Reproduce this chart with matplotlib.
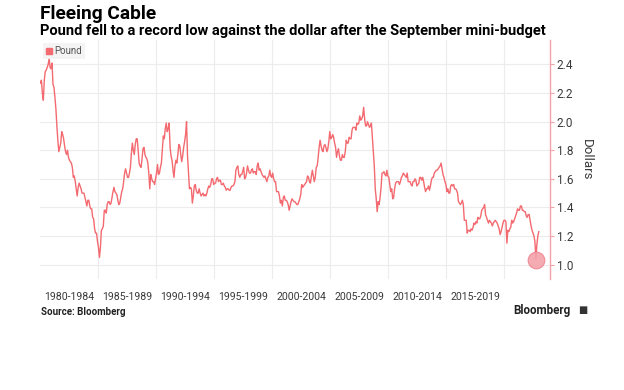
import numpy as np
import matplotlib
matplotlib.use("Agg")
import matplotlib.pyplot as plt
from matplotlib.lines import Line2D

# GBP/USD, monthly readings, Jan 1980 .. Dec 2022
gbp_1980s = [
    2.27, 2.29, 2.20, 2.15, 2.29, 2.35, 2.36, 2.38, 2.40, 2.44, 2.38, 2.37,
    2.41, 2.26, 2.24, 2.17, 2.09, 1.97, 1.87, 1.79, 1.82, 1.85, 1.93, 1.91,
    1.88, 1.83, 1.79, 1.77, 1.80, 1.75, 1.73, 1.72, 1.71, 1.68, 1.61, 1.62,
    1.58, 1.53, 1.48, 1.54, 1.57, 1.55, 1.53, 1.50, 1.50, 1.50, 1.47, 1.44,
    1.41, 1.45, 1.45, 1.41, 1.39, 1.39, 1.33, 1.32, 1.25, 1.22, 1.22, 1.16,
    1.12, 1.05, 1.12, 1.24, 1.25, 1.27, 1.38, 1.38, 1.36, 1.42, 1.44, 1.44,
    1.42, 1.43, 1.47, 1.51, 1.54, 1.51, 1.50, 1.49, 1.45, 1.42, 1.43, 1.47,
    1.51, 1.53, 1.58, 1.64, 1.67, 1.64, 1.61, 1.61, 1.64, 1.68, 1.78, 1.85,
    1.80, 1.77, 1.84, 1.88, 1.88, 1.80, 1.71, 1.69, 1.68, 1.74, 1.81, 1.82,
    1.77, 1.75, 1.74, 1.71, 1.64, 1.53, 1.63, 1.60, 1.58, 1.58, 1.56, 1.60,
]
gbp_1990s = [
    1.64, 1.70, 1.63, 1.64, 1.68, 1.71, 1.80, 1.90, 1.88, 1.95, 1.99, 1.93,
    1.95, 1.99, 1.82, 1.76, 1.73, 1.66, 1.61, 1.69, 1.73, 1.71, 1.77, 1.84,
    1.83, 1.77, 1.72, 1.76, 1.82, 1.86, 1.91, 2.00, 1.76, 1.64, 1.53, 1.54,
    1.53, 1.43, 1.48, 1.55, 1.56, 1.52, 1.50, 1.50, 1.53, 1.50, 1.48, 1.49,
    1.50, 1.48, 1.49, 1.48, 1.50, 1.53, 1.55, 1.54, 1.56, 1.60, 1.60, 1.56,
    1.57, 1.57, 1.60, 1.61, 1.58, 1.59, 1.59, 1.56, 1.56, 1.57, 1.55, 1.54,
    1.52, 1.53, 1.53, 1.52, 1.52, 1.54, 1.55, 1.55, 1.56, 1.58, 1.66, 1.68,
    1.69, 1.63, 1.61, 1.63, 1.63, 1.65, 1.68, 1.60, 1.61, 1.64, 1.69, 1.66,
    1.64, 1.64, 1.66, 1.67, 1.64, 1.65, 1.65, 1.63, 1.69, 1.71, 1.66, 1.67,
    1.65, 1.63, 1.62, 1.61, 1.62, 1.60, 1.58, 1.61, 1.62, 1.66, 1.62, 1.61,
]
gbp_2000s = [
    1.64, 1.60, 1.58, 1.58, 1.51, 1.51, 1.51, 1.48, 1.43, 1.45, 1.41, 1.47,
    1.48, 1.45, 1.45, 1.44, 1.42, 1.38, 1.41, 1.44, 1.46, 1.45, 1.44, 1.44,
    1.43, 1.42, 1.42, 1.44, 1.46, 1.49, 1.56, 1.54, 1.55, 1.56, 1.57, 1.58,
    1.62, 1.61, 1.58, 1.57, 1.62, 1.66, 1.62, 1.58, 1.61, 1.68, 1.69, 1.75,
    1.82, 1.87, 1.83, 1.80, 1.79, 1.83, 1.84, 1.82, 1.79, 1.81, 1.86, 1.93,
    1.88, 1.89, 1.91, 1.89, 1.85, 1.82, 1.75, 1.79, 1.81, 1.76, 1.73, 1.73,
    1.77, 1.75, 1.75, 1.79, 1.87, 1.85, 1.85, 1.89, 1.88, 1.88, 1.94, 1.96,
    1.96, 1.96, 1.94, 1.99, 1.98, 1.99, 2.04, 2.01, 2.02, 2.04, 2.10, 2.02,
    1.97, 1.97, 2.00, 1.98, 1.96, 1.97, 1.99, 1.89, 1.80, 1.69, 1.53, 1.46,
    1.37, 1.44, 1.42, 1.47, 1.54, 1.64, 1.64, 1.65, 1.63, 1.62, 1.66, 1.62,
]
gbp_2010s = [
    1.61, 1.56, 1.51, 1.53, 1.46, 1.47, 1.53, 1.57, 1.58, 1.58, 1.58, 1.56,
    1.58, 1.61, 1.62, 1.64, 1.63, 1.62, 1.61, 1.64, 1.58, 1.58, 1.58, 1.56,
    1.55, 1.58, 1.58, 1.60, 1.59, 1.55, 1.56, 1.57, 1.61, 1.61, 1.59, 1.61,
    1.58, 1.54, 1.51, 1.53, 1.53, 1.55, 1.52, 1.55, 1.59, 1.61, 1.61, 1.64,
    1.65, 1.66, 1.66, 1.67, 1.68, 1.69, 1.71, 1.67, 1.63, 1.61, 1.58, 1.56,
    1.51, 1.53, 1.50, 1.50, 1.55, 1.56, 1.55, 1.56, 1.53, 1.53, 1.52, 1.50,
    1.44, 1.43, 1.42, 1.43, 1.45, 1.42, 1.31, 1.31, 1.31, 1.22, 1.24, 1.24,
    1.23, 1.25, 1.24, 1.26, 1.29, 1.28, 1.30, 1.29, 1.33, 1.32, 1.32, 1.34,
    1.38, 1.39, 1.40, 1.42, 1.35, 1.33, 1.31, 1.29, 1.31, 1.30, 1.29, 1.27,
    1.29, 1.30, 1.31, 1.30, 1.29, 1.27, 1.25, 1.21, 1.23, 1.26, 1.29, 1.31,
]
gbp_2020s = [
    1.31, 1.30, 1.15, 1.24, 1.23, 1.25, 1.26, 1.31, 1.29, 1.30, 1.32, 1.34,
    1.36, 1.39, 1.38, 1.38, 1.41, 1.41, 1.38, 1.38, 1.37, 1.37, 1.34, 1.33,
    1.35, 1.35, 1.31, 1.27, 1.24, 1.22, 1.20, 1.16, 1.035, 1.14, 1.20, 1.23,
]
period_labels = ["1980-1984", "1985-1989", "1990-1994", "1995-1999",
                 "2000-2004", "2005-2009", "2010-2014", "2015-2019"]
y_ticks = [1.0, 1.2, 1.4, 1.6, 1.8, 2.0, 2.2, 2.4]

pound = np.array(gbp_1980s + gbp_1990s + gbp_2000s + gbp_2010s + gbp_2020s)
t = 1980 + (np.arange(len(pound)) + 0.5) / 12

line_col = "#f36a70"
pink = "#f4a2aa"
grid_col = "#ececec"
text_col = "#3a3a3a"

fig = plt.figure(figsize=(6.24, 3.9), dpi=100)
ax = fig.add_axes([0.064, 0.285, 0.817, 0.612])

ax.plot(t, pound, color=line_col, lw=1.0)
i_low = int(np.argmin(pound))
ax.plot(t[i_low], pound[i_low], "o", ms=12, mfc=pink, mec="#ee8590",
        mew=0.8, alpha=0.9)

ax.set_xlim(1980, 2023.9)
ax.set_ylim(0.9, 2.57)

ax.yaxis.tick_right()
ax.yaxis.set_label_position("right")
ax.set_yticks(y_ticks)
ax.set_yticklabels([f"{v:.1f}" for v in y_ticks], family="Roboto")
ax.tick_params(axis="y", length=3, width=0.8, color=pink, pad=2,
               labelsize=8.5, labelcolor=text_col)
ax.set_ylabel("Dollars", rotation=270, labelpad=14, fontsize=9.5,
              color=text_col, family="Roboto")

ax.set_xticks(np.arange(1985, 2021, 5))
ax.set_xticklabels([])
ax.tick_params(axis="x", length=0)
for i, lab in enumerate(period_labels):
    ax.text(1982.5 + 5 * i, -0.078, lab, transform=ax.get_xaxis_transform(),
            ha="center", va="center", fontsize=7.6, color=text_col,
            family="Roboto")

ax.grid(True, color=grid_col, lw=0.8)
ax.set_axisbelow(True)
for s in ["left", "top", "bottom"]:
    ax.spines[s].set_visible(False)
ax.spines["right"].set_color(pink)
ax.spines["right"].set_linewidth(1.0)

handle = Line2D([], [], marker="s", ls="none", color=line_col, ms=4)
leg = ax.legend([handle], ["Pound"], loc="upper left",
                frameon=True, fancybox=False, handlelength=0.6,
                handletextpad=0.3, borderpad=0.3, borderaxespad=0.3,
                bbox_to_anchor=(0.0, 1.0), prop={"family": "Roboto", "size": 7})
leg.get_frame().set_facecolor("#f2f2f2")
leg.get_frame().set_edgecolor("none")
for txt in leg.get_texts():
    txt.set_color("#555555")

fig.text(0.064, 0.965, "Fleeing Cable", fontsize=13.8, fontweight="bold",
         family="Roboto", va="center", ha="left")
fig.text(0.064, 0.92,
         "Pound fell to a record low against the dollar after the September mini-budget",
         fontsize=10.5, fontweight="bold", family="Roboto", va="center",
         ha="left")
fig.text(0.066, 0.2, "Source: Bloomberg", fontsize=7, fontweight="bold",
         family="Roboto", va="center", ha="left", color="#222222")
fig.text(0.822, 0.203, "Bloomberg", fontsize=8.4, fontweight="bold",
         family="Roboto", va="center", ha="left", color="#222222")
fig.text(0.926, 0.205, "\u25a0", fontsize=7, va="center", ha="left",
         color="#333333")

fig.savefig("out.png", dpi=100, facecolor="white")
